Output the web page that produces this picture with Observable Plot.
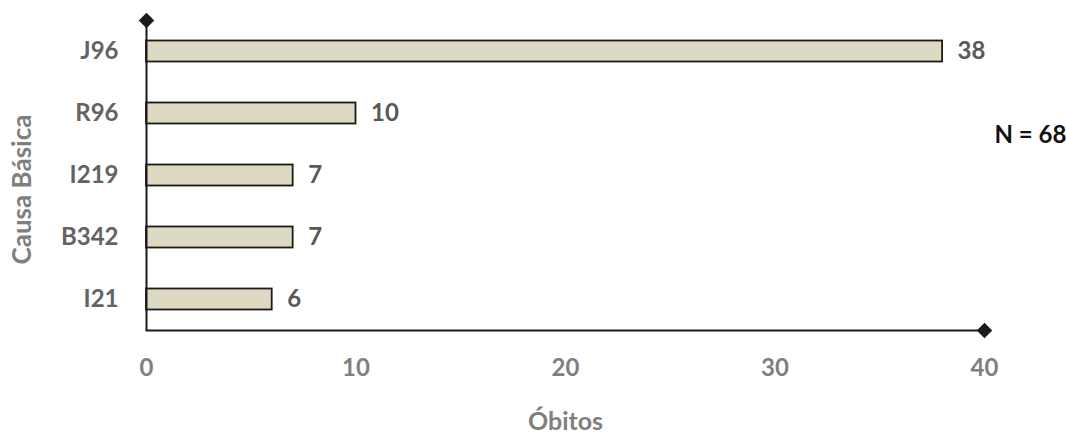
<!DOCTYPE html>
<html>
<head>
<meta charset="utf-8">
<script src="https://cdn.jsdelivr.net/npm/d3@7"></script>
<script src="https://cdn.jsdelivr.net/npm/@observablehq/plot@0.6"></script>
<style>
  html, body { margin: 0; padding: 0; background: #fff; }
  #chart svg { font-family: Lato, "Open Sans", sans-serif; font-weight: bold; }
</style>
</head>
<body>
<div id="chart"></div>
<script>
const causes = ["J96", "R96", "I219", "B342", "I21"];
const deaths = [38, 10, 7, 7, 6];
const xTicks = [0, 10, 20, 30, 40];
const xTitle = "Óbitos";
const yTitle = "Causa Básica";
const note = "N = 68";

const data = causes.map((c, i) => ({cause: c, value: deaths[i]}));

const chart = Plot.plot({
  width: 1066,
  height: 436,
  marginTop: 20,
  marginBottom: 106,
  marginLeft: 146,
  marginRight: 82,
  style: {fontFamily: "Lato, 'Open Sans', sans-serif", fontWeight: "bold", fontSize: "24px", background: "#fff"},
  x: {domain: [0, 40], ticks: xTicks},
  y: {domain: causes, padding: 0},
  marks: [
    Plot.barX(data, {x: "value", y: "cause", fill: "#ddd9c3", stroke: "#1a1a1a", strokeWidth: 1.8, insetTop: 20.5, insetBottom: 20.5}),
    Plot.text(data, {x: "value", y: "cause", text: d => String(d.value), textAnchor: "start", dx: 15, fill: "#595959", fontSize: 24, fontWeight: "bold"}),
    Plot.axisX({ticks: xTicks, tickSize: 0, tickPadding: 28, label: null, fill: "#7f7f7f", fontSize: 24}),
    Plot.axisY({tickSize: 0, tickPadding: 28, label: null, fill: "#636363", fontSize: 24}),
    Plot.ruleX([0], {stroke: "#1a1a1a", strokeWidth: 2}),
    Plot.frame({anchor: "bottom", stroke: "#1a1a1a", strokeWidth: 2}),
    Plot.dot([0], {x: d => d, frameAnchor: "top", symbol: "diamond2", r: 7, fill: "#1a1a1a", stroke: "none"}),
    Plot.dot([40], {x: d => d, frameAnchor: "bottom", symbol: "diamond2", r: 7, fill: "#1a1a1a", stroke: "none"}),
    Plot.text([xTitle], {frameAnchor: "bottom", dy: 91, lineAnchor: "middle", fill: "#7f7f7f", fontSize: 25, fontWeight: "bold"}),
    Plot.text([yTitle], {frameAnchor: "left", dx: -124, dy: 14, rotate: -90, textAnchor: "middle", lineAnchor: "middle", fill: "#7f7f7f", fontSize: 26, fontWeight: "bold"}),
    Plot.text([note], {frameAnchor: "top-right", dx: 46, dy: 115, textAnchor: "middle", lineAnchor: "middle", fill: "#111", fontSize: 24, fontWeight: "bold"})
  ]
});
document.getElementById("chart").appendChild(chart);
</script>
</body>
</html>
